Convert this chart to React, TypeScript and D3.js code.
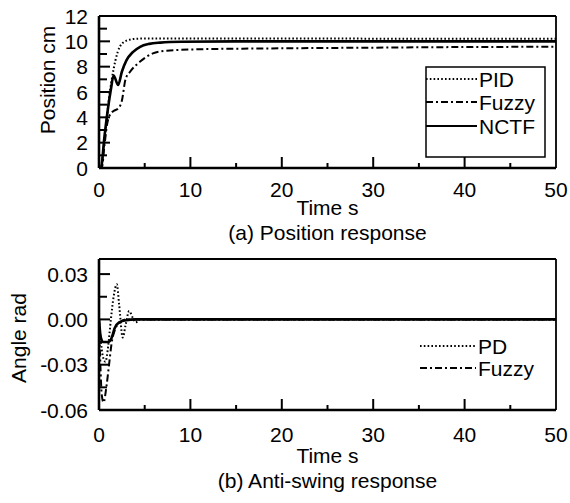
import React from "react";
import * as d3 from "d3";

// ---- (a) Position response: time (s) and position (cm) ----
const pidT = [0, 0.2, 0.5, 0.8, 1.1, 1.4, 1.8, 2.3, 3, 4, 5, 8, 15, 25, 35, 50];
const pidY = [0, 0, 1.5, 3.5, 5.5, 7.0, 8.5, 9.6, 10.05, 10.2, 10.22, 10.22, 10.22, 10.22, 10.2, 10.2];

const fuzzyT = [0, 0.3, 0.6, 0.9, 1.2, 1.6, 2.1, 2.5, 2.9, 3.4, 4.5, 5.9, 7.4, 10.7, 20, 30, 40, 50];
const fuzzyY = [0, 0, 1.8, 3.5, 4.2, 4.5, 4.7, 5.3, 7.0, 7.6, 8.4, 9.05, 9.26, 9.37, 9.45, 9.5, 9.55, 9.57];

const nctfT = [0, 0.2, 0.6, 1.0, 1.3, 1.6, 2.1, 2.5, 3.0, 3.7, 4.5, 5.5, 6.7, 9, 15, 30, 50];
const nctfY = [0, 0, 2.5, 4.8, 6.2, 7.3, 6.55, 7.6, 8.5, 9.15, 9.57, 9.8, 9.9, 9.97, 10.0, 10.0, 10.0];

// ---- (b) Anti-swing response: time (s) and angle (rad) ----
const pdT = [0, 0.2, 0.4, 0.7, 1.0, 1.3, 1.6, 1.95, 2.2, 2.6, 2.9, 3.3, 3.7, 4.0, 4.5, 6, 50];
const pdY = [0, -0.014, -0.024, -0.028, -0.018, 0.0, 0.015, 0.0233, 0.01, -0.012, -0.004, 0.0055, 0.001, -0.002, 0, 0, 0];

const fzAngT = [0, 0.15, 0.3, 0.5, 0.8, 1.1, 1.4, 1.8, 2.3, 3, 50];
const fzAngY = [0, -0.03, -0.05, -0.055, -0.045, -0.03, -0.015, -0.006, -0.002, 0, 0];

const nctfAngT = [0, 0.2, 0.5, 1.0, 1.4, 1.7, 2.2, 3, 4, 50];
const nctfAngY = [0, -0.012, -0.015, -0.015, -0.012, -0.006, -0.002, -0.0005, 0, 0];

const timeTicks = [0, 10, 20, 30, 40, 50];
const posTicks = [0, 2, 4, 6, 8, 10, 12];
const angTicks = [-0.06, -0.03, 0.0, 0.03];
const angTickLabels = ["-0.06", "-0.03", "0.00", "0.03"];

const FONT = "'Liberation Sans', Arial, sans-serif";
const FS = 21;

const DOT = "1.6,2.2";
const DASHDOT = "7,3,2,3";

type Series = { t: number[]; y: number[]; dash?: string; width: number };

function Panel(props: {
  top: number;
  bottom: number;
  yDomain: [number, number];
  yMajor: number[];
  yLabels: string[];
  yMinor: number[];
  series: Series[];
  yTitle: string;
  yTitleX: number;
  yTitleY: number;
  tickBaseline: number;
  timeBaseline: number;
  title: string;
  titleBaseline: number;
  legend: { name: string; dash?: string; width: number }[];
  legendBox: boolean;
  legendX0: number;
  legendX1: number;
  legendY: number[];
  box?: [number, number, number, number];
}) {
  const left = 99;
  const right = 556;
  const x = d3.scaleLinear().domain([0, 50]).range([left, right]);
  const y = d3.scaleLinear().domain(props.yDomain).range([props.bottom, props.top]);
  const line = d3
    .line<[number, number]>()
    .x((d) => x(d[0]))
    .y((d) => y(d[1]))
    .curve(d3.curveMonotoneX);
  const minorX = d3.range(5, 50, 10);
  const mid = (left + right) / 2;
  return (
    <g>
      <defs>
        <clipPath id={`clip-${props.top}`}>
          <rect x={left} y={props.top} width={right - left} height={props.bottom - props.top} />
        </clipPath>
      </defs>
      <g clipPath={`url(#clip-${props.top})`}>
        {props.series.map((s, i) => (
          <path
            key={i}
            d={line(s.t.map((t, j) => [t, s.y[j]] as [number, number])) || ""}
            fill="none"
            stroke="#000"
            strokeWidth={s.width}
            strokeDasharray={s.dash}
          />
        ))}
      </g>
      {/* frame */}
      <line x1={left} x2={right} y1={props.top} y2={props.top} stroke="#000" strokeWidth={1.8} />
      <line x1={right} x2={right} y1={props.top} y2={props.bottom} stroke="#000" strokeWidth={1.8} />
      <line x1={left} x2={left} y1={props.top} y2={props.bottom} stroke="#000" strokeWidth={2.6} />
      <line x1={left} x2={right} y1={props.bottom} y2={props.bottom} stroke="#000" strokeWidth={2.6} />
      {/* x ticks */}
      {timeTicks.map((t) => (
        <g key={`xt${t}`}>
          {t > 0 && t < 50 && (
            <line x1={x(t)} x2={x(t)} y1={props.bottom} y2={props.bottom - 11} stroke="#000" strokeWidth={2} />
          )}
          <text x={x(t)} y={props.tickBaseline} textAnchor="middle" fontFamily={FONT} fontSize={FS}>
            {t}
          </text>
        </g>
      ))}
      {minorX.map((t) => (
        <line key={`xm${t}`} x1={x(t)} x2={x(t)} y1={props.bottom} y2={props.bottom - 5} stroke="#000" strokeWidth={2} />
      ))}
      {/* y ticks */}
      {props.yMajor.map((v, i) => (
        <g key={`yt${i}`}>
          <line x1={left} x2={left + 11} y1={y(v)} y2={y(v)} stroke="#000" strokeWidth={2} />
          <text
            x={88}
            y={y(v)}
            dy="0.36em"
            textAnchor="end"
            fontFamily={FONT}
            fontSize={FS}
          >
            {props.yLabels[i]}
          </text>
        </g>
      ))}
      {props.yMinor.map((v, i) => (
        <line key={`ym${i}`} x1={left} x2={left + 8} y1={y(v)} y2={y(v)} stroke="#000" strokeWidth={2} />
      ))}
      <text
        transform={`translate(${props.yTitleX},${props.yTitleY}) rotate(-90)`}
        textAnchor="middle"
        fontFamily={FONT}
        fontSize={FS}
      >
        {props.yTitle}
      </text>
      <text x={mid} y={props.timeBaseline} textAnchor="middle" fontFamily={FONT} fontSize={FS}>
        Time s
      </text>
      <text x={mid} y={props.titleBaseline} textAnchor="middle" fontFamily={FONT} fontSize={FS}>
        {props.title}
      </text>
      {props.legendBox && props.box && (
        <rect
          x={props.box[0]}
          y={props.box[1]}
          width={props.box[2]}
          height={props.box[3]}
          fill="#fff"
          stroke="#000"
          strokeWidth={1.5}
        />
      )}
      {props.legend.map((l, i) => (
        <g key={l.name}>
          <line
            x1={props.legendX0}
            x2={props.legendX1}
            y1={props.legendY[i]}
            y2={props.legendY[i]}
            stroke="#000"
            strokeWidth={l.width}
            strokeDasharray={l.dash}
          />
          <text
            x={props.legendX1 + 2}
            y={props.legendY[i]}
            dy="0.36em"
            fontFamily={FONT}
            fontSize={FS}
          >
            {l.name}
          </text>
        </g>
      ))}
    </g>
  );
}

export default function App() {
  return (
    <svg width={570} height={503} style={{ position: "absolute", left: 0, top: 0, background: "#fff" }}>
      <Panel
        top={16}
        bottom={168}
        yDomain={[0, 12]}
        yMajor={posTicks}
        yLabels={posTicks.map(String)}
        yMinor={d3.range(1, 12, 2)}
        series={[
          { t: pidT, y: pidY, dash: DOT, width: 2 },
          { t: fuzzyT, y: fuzzyY, dash: DASHDOT, width: 2 },
          { t: nctfT, y: nctfY, width: 2.6 },
        ]}
        yTitle="Position cm"
        yTitleX={55}
        yTitleY={80}
        tickBaseline={197}
        timeBaseline={215}
        title="(a) Position response"
        titleBaseline={240}
        legend={[
          { name: "PID", dash: DOT, width: 2 },
          { name: "Fuzzy", dash: DASHDOT, width: 2 },
          { name: "NCTF", width: 2.2 },
        ]}
        legendBox={true}
        box={[426, 67, 119, 90]}
        legendX0={426}
        legendX1={477}
        legendY={[79, 102, 126]}
      />
      <Panel
        top={259}
        bottom={410}
        yDomain={[-0.06, 0.04]}
        yMajor={angTicks}
        yLabels={angTickLabels}
        yMinor={[-0.045, -0.015, 0.015]}
        series={[
          { t: pdT, y: pdY, dash: DOT, width: 2 },
          { t: fzAngT, y: fzAngY, dash: DASHDOT, width: 2 },
          { t: nctfAngT, y: nctfAngY, width: 2.6 },
        ]}
        yTitle="Angle rad"
        yTitleX={26}
        yTitleY={338}
        tickBaseline={442}
        timeBaseline={463}
        title="(b) Anti-swing response"
        titleBaseline={488}
        legend={[
          { name: "PD", dash: DOT, width: 2 },
          { name: "Fuzzy", dash: DASHDOT, width: 2 },
        ]}
        legendBox={false}
        legendX0={420}
        legendX1={476}
        legendY={[346, 368]}
      />
    </svg>
  );
}
